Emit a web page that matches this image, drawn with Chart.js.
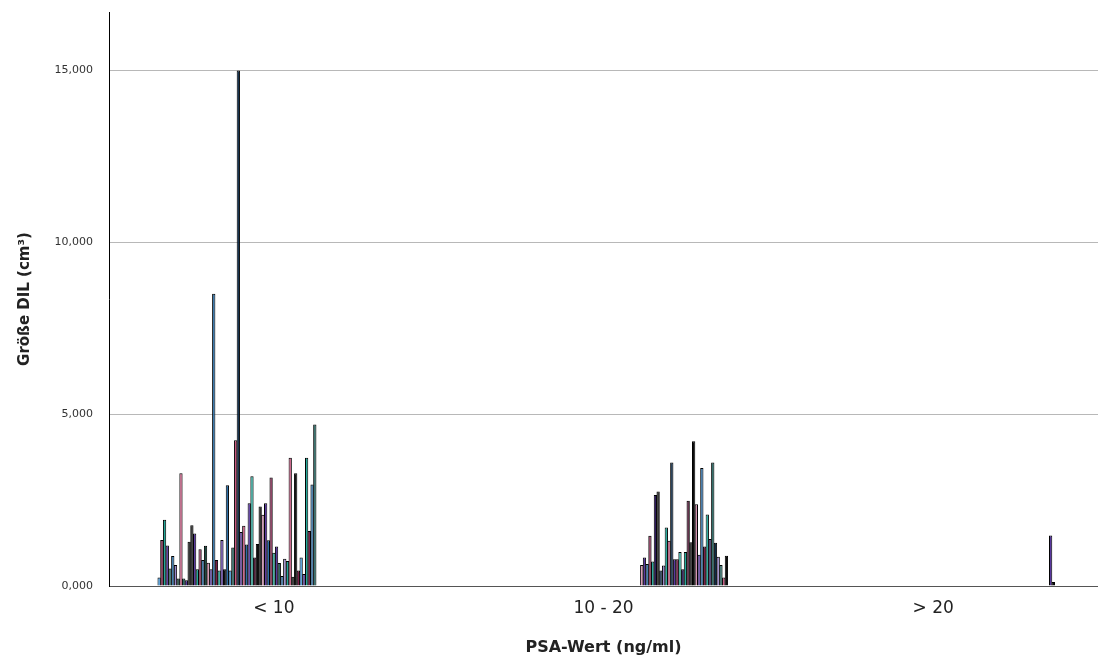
<!DOCTYPE html>
<html>
<head>
<meta charset="utf-8">
<script src="https://cdn.jsdelivr.net/npm/chart.js@4.4.1/dist/chart.umd.min.js"></script>
<style>
  html, body { margin: 0; padding: 0; background: #fff; overflow: hidden; }
</style>
</head>
<body>
<canvas id="chart" width="1098" height="659"></canvas>
<script>
// PSA-Kategorien und Größe DIL (cm³) je Fall
const categories = ["< 10", "10 - 20", "> 20"];

const lowValues = [
  0.25, 1.34, 1.93, 1.18, 0.51, 0.87, 0.61, 0.22, 3.28, 0.22,
  0.17, 1.29, 1.77, 1.53, 0.49, 1.07, 0.76, 1.17, 0.68, 0.49,
  8.50, 0.76, 0.45, 1.34, 0.49, 2.93, 0.45, 1.12, 4.24, 15.0,
  1.57, 1.75, 1.21, 2.41, 3.19, 0.83, 1.22, 2.31, 2.07, 2.41,
  1.33, 3.16, 0.97, 1.15, 0.67, 0.29, 0.79, 0.73, 3.73, 0.27,
  3.28, 0.45, 0.83, 0.35, 3.73, 1.60, 2.95, 4.70
];
const midValues = [
  0.61, 0.83, 0.64, 1.46, 0.71, 2.65, 2.75, 0.45, 0.60, 1.70,
  1.32, 3.59, 0.78, 0.78, 0.99, 0.49, 0.99, 2.48, 1.27, 4.21,
  2.38, 0.91, 3.43, 1.15, 2.08, 1.37, 3.59, 1.26, 0.85, 0.61,
  0.25, 0.88
];
const highValues = [1.47, 0.12];

const yTicks = [0, 5, 10, 15];

// Farben (SPSS-artig) je Balken
const C = {
  lightBlue: "#3f97dc", blue: "#2a6da6", navy: "#0e2b48", teal: "#22a899",
  darkTeal: "#1c5f5a", darkGreen: "#1e4a42", purple: "#5a38a0", darkPurple: "#2e1a5e",
  lightPurple: "#9a86cc", maroon: "#7c1d47", darkMaroon: "#4a0f2e", pink: "#c8557f",
  lightPink: "#d794b2", black: "#0d0d0d"
};
const lowColors = [
  C.lightBlue, C.maroon, C.teal, C.purple, C.darkTeal, C.blue, C.lightPurple, C.darkGreen, C.pink, C.darkTeal,
  C.purple, C.black, C.black, C.purple, C.teal, C.maroon, C.blue, C.darkGreen, C.lightPink, C.purple,
  C.blue, C.maroon, C.teal, C.purple, C.black, C.blue, C.lightBlue, C.darkTeal, C.pink, C.navy,
  C.purple, C.pink, C.blue, C.purple, C.teal, C.darkMaroon, C.black, C.black, C.lightPink, C.purple,
  C.blue, C.maroon, C.teal, C.purple, C.darkTeal, C.blue, C.lightPurple, C.teal, C.pink, C.black,
  C.black, C.maroon, C.lightBlue, C.purple, C.teal, C.maroon, C.blue, C.darkTeal
];
const midColors = [
  C.lightPink, C.purple, C.blue, C.maroon, C.teal, C.darkPurple, C.black, C.navy, C.lightPurple, C.teal,
  C.pink, C.navy, C.purple, C.maroon, C.teal, C.darkPurple, C.teal, C.darkMaroon, C.black, C.black,
  C.lightPink, C.purple, C.blue, C.maroon, C.teal, C.darkPurple, C.darkTeal, C.navy, C.lightPurple, C.darkTeal,
  C.pink, C.black
];
const highColors = [C.purple, C.black];

// Cluster-Slots: jede Kategorie reserviert denselben Platz fuer alle Faelle
const leadingSlots = 3;
const midStart = 56;
const highStart = 85;
const slotCount = 88;

const pick = (vals, cols, start, k) => {
  const i = k - start;
  return i >= 0 && i < vals.length ? [vals[i], cols[i]] : [null, null];
};

const datasets = [];
for (let d = 0; d < leadingSlots + slotCount; d++) {
  const k = d - leadingSlots;
  const lo = pick(lowValues, lowColors, 0, k);
  const mi = pick(midValues, midColors, midStart, k);
  const hi = pick(highValues, highColors, highStart, k);
  datasets.push({
    label: "Fall " + (k + 1),
    data: [lo[0], mi[0], hi[0]],
    backgroundColor: [lo[1], mi[1], hi[1]],
    borderColor: "#000",
    borderWidth: 1,
    barPercentage: 1.2,
    categoryPercentage: 0.754
  });
}

const font = "'DejaVu Sans', sans-serif";

new Chart(document.getElementById("chart").getContext("2d"), {
  type: "bar",
  data: { labels: categories, datasets: datasets },
  options: {
    responsive: false,
    animation: false,
    layout: { padding: { top: 12, right: 0, left: 0, bottom: 0 } },
    plugins: { legend: { display: false }, tooltip: { enabled: false } },
    scales: {
      x: {
        grid: { display: false, drawTicks: false },
        border: { color: "#555", width: 1 },
        ticks: { color: "#222", padding: 12, font: { family: font, size: 17 } },
        title: {
          display: true, text: "PSA-Wert (ng/ml)", color: "#222",
          font: { family: font, size: 16, weight: "bold" },
          padding: { top: 0, bottom: 2 }
        },
        afterFit: (s) => { s.height = 73; }
      },
      y: {
        min: 0, max: 16.7,
        afterBuildTicks: (s) => { s.ticks = yTicks.map(v => ({ value: v })); },
        grid: {
          drawTicks: false,
          color: (ctx) => (ctx.tick && ctx.tick.value === 0 ? "rgba(0,0,0,0)" : "#b8b8b8")
        },
        border: { color: "#000", width: 1 },
        ticks: {
          color: "#333", padding: 16, font: { family: font, size: 11 },
          callback: (v) => v.toFixed(3).replace(".", ",")
        },
        title: {
          display: true, text: "Größe DIL (cm³)", color: "#222",
          font: { family: font, size: 15, weight: "bold" },
          padding: { top: 16, bottom: 0 }
        },
        afterFit: (s) => { s.width = 109; s.paddingTop = 0; s.paddingBottom = 0; }
      }
    }
  }
});
</script>
</body>
</html>
